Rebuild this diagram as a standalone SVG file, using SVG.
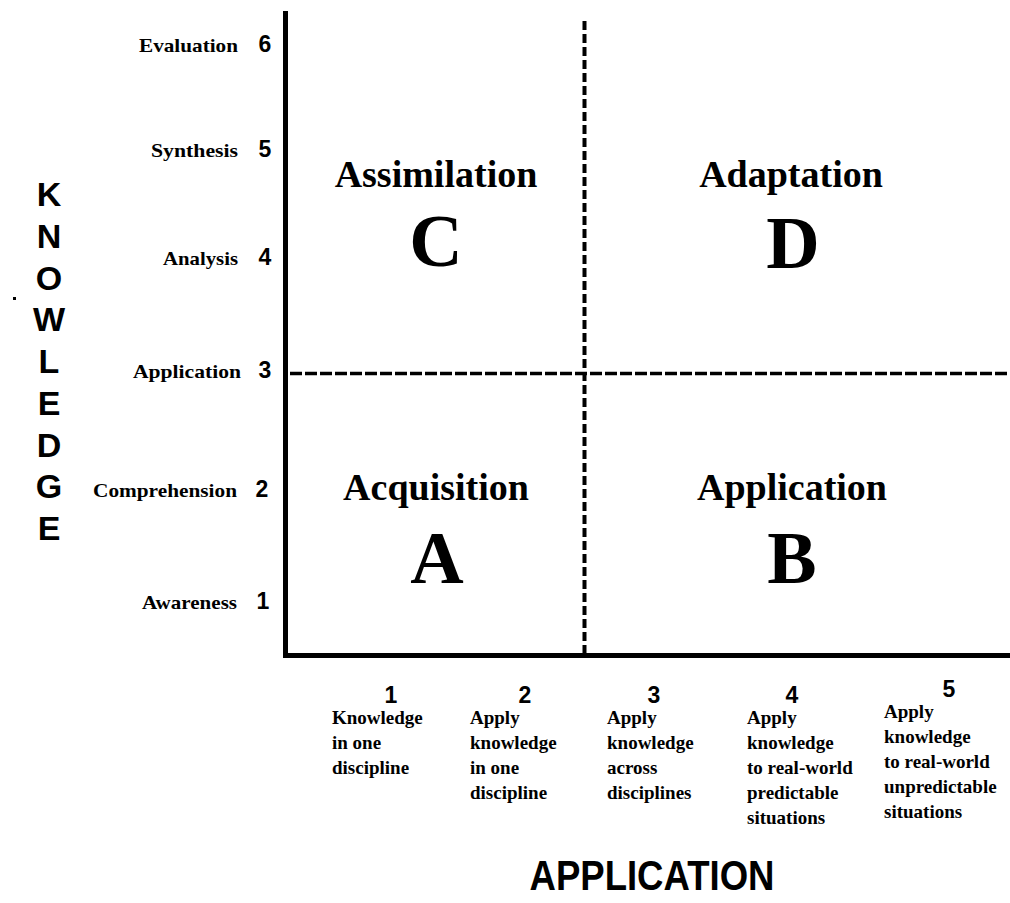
<svg xmlns="http://www.w3.org/2000/svg" width="1010" height="903" viewBox="0 0 1010 903">
  <style>
    .axis { stroke: #000; stroke-width: 5; fill: none; }
    .divider { stroke: #000; fill: none; }
    .lvl { font-family: "Liberation Serif", "Times New Roman", serif; font-weight: bold; font-size: 19px; fill: #000; text-anchor: end; }
    .num { font-family: "Liberation Sans", Arial, sans-serif; font-weight: bold; font-size: 23px; fill: #000; text-anchor: middle; }
    .desc { font-family: "Liberation Serif", "Times New Roman", serif; font-weight: bold; font-size: 19px; fill: #000; }
    .qname { font-family: "Liberation Serif", "Times New Roman", serif; font-weight: bold; font-size: 38px; fill: #000; text-anchor: middle; }
    .qletter { font-family: "Liberation Serif", "Times New Roman", serif; font-weight: bold; font-size: 74px; fill: #000; text-anchor: middle; }
    .title { font-family: "Liberation Sans", Arial, sans-serif; font-weight: bold; fill: #000; text-anchor: middle; }
  </style>
  <rect width="1010" height="903" fill="#fff"/>

  <!-- axes and quadrant dividers -->
  <g id="connectors">
    <path class="axis" d="M285.5 11 V655.5 H1010"/>
    <line class="divider" x1="584.5" y1="21" x2="584.5" y2="653" stroke-width="4" stroke-dasharray="9 4"/>
    <line class="divider" x1="290" y1="373.5" x2="1007" y2="373.5" stroke-width="3.5" stroke-dasharray="12 3"/>
  </g>

  <!-- knowledge levels on the vertical axis -->
  <g id="knowledge-levels">
    <text class="lvl" x="238" y="52" textLength="99" lengthAdjust="spacingAndGlyphs">Evaluation</text>
    <text class="num" x="265" y="52">6</text>
    <text class="lvl" x="238" y="157" textLength="87" lengthAdjust="spacingAndGlyphs">Synthesis</text>
    <text class="num" x="265" y="157">5</text>
    <text class="lvl" x="238" y="265" textLength="75" lengthAdjust="spacingAndGlyphs">Analysis</text>
    <text class="num" x="265" y="265">4</text>
    <text class="lvl" x="241" y="378" textLength="108" lengthAdjust="spacingAndGlyphs">Application</text>
    <text class="num" x="265" y="378">3</text>
    <text class="lvl" x="237" y="497" textLength="144" lengthAdjust="spacingAndGlyphs">Comprehension</text>
    <text class="num" x="262" y="497">2</text>
    <text class="lvl" x="237" y="609" textLength="95" lengthAdjust="spacingAndGlyphs">Awareness</text>
    <text class="num" x="263" y="609">1</text>
  </g>

  <!-- vertical axis title -->
  <g id="knowledge-title">
    <text class="title" font-size="34" x="49" y="206">K</text>
    <text class="title" font-size="34" x="49" y="248">N</text>
    <text class="title" font-size="34" x="49" y="290">O</text>
    <text class="title" font-size="34" x="49" y="331">W</text>
    <text class="title" font-size="34" x="49" y="373">L</text>
    <text class="title" font-size="34" x="49" y="415">E</text>
    <text class="title" font-size="34" x="49" y="457">D</text>
    <text class="title" font-size="34" x="49" y="498">G</text>
    <text class="title" font-size="34" x="49" y="540">E</text>
    <rect x="13" y="297" width="3" height="3" fill="#000"/>
  </g>

  <!-- quadrants -->
  <g id="quadrant-c">
    <text class="qname" x="436" y="187">Assimilation</text>
    <text class="qletter" x="436" y="266">C</text>
  </g>
  <g id="quadrant-d">
    <text class="qname" x="791" y="187">Adaptation</text>
    <text class="qletter" x="793" y="268">D</text>
  </g>
  <g id="quadrant-a">
    <text class="qname" x="436" y="500">Acquisition</text>
    <text class="qletter" x="437" y="583">A</text>
  </g>
  <g id="quadrant-b">
    <text class="qname" x="792" y="500">Application</text>
    <text class="qletter" x="792" y="583">B</text>
  </g>

  <!-- application levels on the horizontal axis -->
  <g id="application-1">
    <text class="num" x="391" y="703">1</text>
    <text class="desc" x="332" y="724"><tspan x="332">Knowledge</tspan><tspan x="332" dy="25">in one</tspan><tspan x="332" dy="25">discipline</tspan></text>
  </g>
  <g id="application-2">
    <text class="num" x="525" y="703">2</text>
    <text class="desc" x="470" y="724"><tspan x="470">Apply</tspan><tspan x="470" dy="25">knowledge</tspan><tspan x="470" dy="25">in one</tspan><tspan x="470" dy="25">discipline</tspan></text>
  </g>
  <g id="application-3">
    <text class="num" x="654" y="703">3</text>
    <text class="desc" x="607" y="724"><tspan x="607">Apply</tspan><tspan x="607" dy="25">knowledge</tspan><tspan x="607" dy="25">across</tspan><tspan x="607" dy="25">disciplines</tspan></text>
  </g>
  <g id="application-4">
    <text class="num" x="792" y="703">4</text>
    <text class="desc" x="747" y="724"><tspan x="747">Apply</tspan><tspan x="747" dy="25">knowledge</tspan><tspan x="747" dy="25">to real-world</tspan><tspan x="747" dy="25">predictable</tspan><tspan x="747" dy="25">situations</tspan></text>
  </g>
  <g id="application-5">
    <text class="num" x="949" y="697">5</text>
    <text class="desc" x="884" y="718"><tspan x="884">Apply</tspan><tspan x="884" dy="25">knowledge</tspan><tspan x="884" dy="25">to real-world</tspan><tspan x="884" dy="25">unpredictable</tspan><tspan x="884" dy="25">situations</tspan></text>
  </g>

  <!-- horizontal axis title -->
  <g id="application-title">
    <text class="title" font-size="42" x="652" y="890" textLength="245" lengthAdjust="spacingAndGlyphs">APPLICATION</text>
  </g>
</svg>
